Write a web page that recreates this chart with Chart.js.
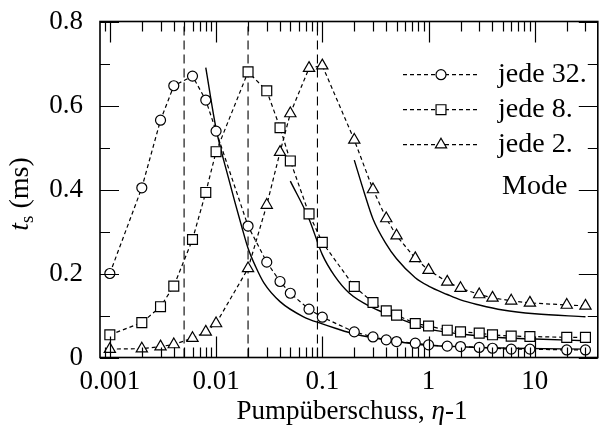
<!DOCTYPE html>
<html><head><meta charset="utf-8">
<script src="https://cdn.jsdelivr.net/npm/chart.js@4.4.1/dist/chart.umd.min.js"></script>
<style>html,body{margin:0;padding:0;background:#fff;}</style>
</head><body>
<canvas id="c" width="606" height="439"></canvas>
<script>
// ---- data ----
const xTickLabels = [0.001, 0.01, 0.1, 1, 10];
const yTickLabels = [0, 0.2, 0.4, 0.6, 0.8];
const legendLabels = ['jede 32.', 'jede 8.', 'jede 2.', 'Mode'];

const markerX = [0.001,0.002,0.003,0.004,0.006,0.008,0.01,0.02,0.03,0.04,0.05,0.075,0.1,0.2,0.3,0.4,0.5,0.75,1,1.5,2,3,4,6,9,20,30];
const jede32 = [0.20,0.404,0.565,0.647,0.670,0.613,0.539,0.313,0.227,0.181,0.153,0.115,0.096,0.061,0.049,0.042,0.038,0.034,0.030,0.027,0.026,0.024,0.022,0.020,0.020,0.018,0.018];
const jede8  = [0.054,0.083,0.121,0.170,0.281,0.393,0.490,0.680,0.635,0.547,0.468,0.342,0.274,0.169,0.131,0.111,0.101,0.081,0.075,0.065,0.061,0.058,0.054,0.051,0.050,0.048,0.048];
const jede2  = [0.020,0.021,0.026,0.031,0.046,0.061,0.081,0.212,0.363,0.489,0.581,0.689,0.695,0.518,0.400,0.331,0.290,0.236,0.208,0.180,0.165,0.150,0.142,0.135,0.130,0.125,0.123];

const mode1X = [0.008,0.01,0.013,0.0175,0.02,0.0236,0.0283,0.04,0.0665,0.1,0.135,0.2,0.5,1,3,6,30];
const mode1Y = [0.69,0.545,0.43,0.31,0.26,0.216,0.177,0.133,0.097,0.080,0.069,0.056,0.038,0.029,0.024,0.022,0.020];
const mode2X = [0.05,0.075,0.1,0.13,0.18,0.3,0.48,1,2,5,10,30];
const mode2Y = [0.42,0.33,0.245,0.195,0.153,0.118,0.097,0.068,0.056,0.047,0.044,0.040];
const mode3X = [0.2,0.25,0.3,0.4,0.5,0.75,1,1.5,2,3,5,10,30];
const mode3Y = [0.47,0.39,0.33,0.27,0.235,0.19,0.17,0.15,0.137,0.125,0.113,0.104,0.097];

const thresholdX = [0.005, 0.02, 0.09];

// ---- styles ----
const FONT = '"Liberation Serif", "Times New Roman", serif';

function markerSeries(ys, style, r) {
  return {
    data: markerX.map((x, i) => ({x, y: ys[i]})),
    showLine: true, borderColor: '#000', borderWidth: 1.2, borderDash: [4, 3],
    pointStyle: style, pointRadius: r, pointHoverRadius: r,
    pointBackgroundColor: '#fff', pointBorderColor: '#000', pointBorderWidth: 1.2,
    tension: 0, clip: false
  };
}
function solidSeries(xs, ys) {
  return {
    data: xs.map((x, i) => ({x, y: ys[i]})),
    showLine: true, borderColor: '#000', borderWidth: 1.4, pointRadius: 0,
    cubicInterpolationMode: 'monotone'
  };
}
function vLine(x) {
  return {
    data: [{x, y: 0}, {x, y: 0.8}],
    showLine: true, borderColor: '#000', borderWidth: 1.1, borderDash: [9, 5], pointRadius: 0
  };
}

const datasets = [
  markerSeries(jede32, 'circle', 5),
  markerSeries(jede8, 'rect', 7),
  markerSeries(jede2, 'triangle', 6.5),
  solidSeries(mode1X, mode1Y),
  solidSeries(mode2X, mode2Y),
  solidSeries(mode3X, mode3Y),
  ...thresholdX.map(vLine)
];

// ---- decorations: inward ticks, frame, legend, titles ----
function drawRich(ctx, parts, x, y) {
  let w = 0;
  parts.forEach(p => { ctx.font = p.font; w += ctx.measureText(p.t).width; });
  let cx = x - w / 2;
  parts.forEach(p => {
    ctx.font = p.font;
    ctx.fillText(p.t, cx, y + (p.dy || 0));
    cx += ctx.measureText(p.t).width;
  });
}

const deco = {
  id: 'deco',
  afterDatasetsDraw(chart) {
    const {ctx, chartArea: a, scales: {x, y}} = chart;
    ctx.save();
    ctx.strokeStyle = '#000';
    ctx.lineWidth = 1.2;
    ctx.beginPath();
    for (let e = -4; e <= 2; e++) {
      for (let m = 1; m <= 9; m++) {
        const v = m * Math.pow(10, e);
        if (v < x.min || v > x.max) continue;
        const px = Math.round(x.getPixelForValue(v)) + 0.5;
        const L = m === 1 ? 21 : 10;
        ctx.moveTo(px, a.bottom); ctx.lineTo(px, a.bottom - L);
        ctx.moveTo(px, a.top); ctx.lineTo(px, a.top + L);
      }
    }
    for (let k = 0; k <= 8; k++) {
      const v = k / 10;
      const py = Math.round(y.getPixelForValue(v)) + 0.5;
      const L = k % 2 === 0 ? 19 : 10;
      ctx.moveTo(a.left, py); ctx.lineTo(a.left + L, py);
      ctx.moveTo(a.right, py); ctx.lineTo(a.right - L, py);
    }
    ctx.stroke();
    ctx.lineWidth = 1.6;
    ctx.strokeRect(a.left, a.top, a.right - a.left, a.bottom - a.top);

    // legend
    ctx.fillStyle = '#000';
    const rows = [81.7, 116.7, 151.7];
    const styles = [['circle', 5], ['rect', 7], ['triangle', 6.5]];
    for (let i = 0; i < 3; i++) {
      const cy = rows[i] - 7;
      ctx.save();
      ctx.lineWidth = 1.2; ctx.setLineDash([4, 3]);
      ctx.beginPath(); ctx.moveTo(403, cy); ctx.lineTo(479, cy); ctx.stroke();
      ctx.restore();
      ctx.fillStyle = '#fff'; ctx.strokeStyle = '#000'; ctx.lineWidth = 1.2;
      Chart.helpers.drawPoint(ctx, {pointStyle: styles[i][0], radius: styles[i][1], borderWidth: 1.2}, 441, cy);
      ctx.fillStyle = '#000';
      ctx.font = '28px ' + FONT;
      ctx.textAlign = 'left'; ctx.textBaseline = 'alphabetic';
      ctx.fillText(legendLabels[i], 498, rows[i]);
    }
    ctx.font = '28px ' + FONT;
    ctx.fillText(legendLabels[3], 502, 194);

    // x title
    ctx.textAlign = 'left'; ctx.textBaseline = 'alphabetic';
    drawRich(ctx, [
      {t: 'Pumpüberschuss, ', font: '27px ' + FONT},
      {t: 'η', font: 'italic 27px ' + FONT},
      {t: '-1', font: '27px ' + FONT}
    ], 352, 419);

    // y title
    ctx.save();
    ctx.translate(28, 194);
    ctx.rotate(-Math.PI / 2);
    drawRich(ctx, [
      {t: 't', font: 'italic 28px ' + FONT},
      {t: 's', font: '19px ' + FONT, dy: 5},
      {t: ' (ms)', font: '28px ' + FONT}
    ], 0, 0);
    ctx.restore();
    ctx.restore();
  }
};

new Chart(document.getElementById('c'), {
  type: 'scatter',
  data: {datasets},
  options: {
    responsive: false, animation: false, devicePixelRatio: 1,
    layout: {padding: {top: 21.5, right: 0, left: 0, bottom: 0}},
    plugins: {legend: {display: false}, tooltip: {enabled: false}},
    scales: {
      x: {
        type: 'logarithmic', min: 0.000808, max: 39.2,
        grid: {display: false, drawTicks: false}, border: {display: false},
        afterBuildTicks: s => { s.ticks = xTickLabels.map(v => ({value: v})); },
        afterFit: s => { s.height = 81.5; s.paddingLeft = 0; s.paddingRight = 0; },
        ticks: {
          autoSkip: false, maxRotation: 0, padding: 8, color: '#000',
          font: {family: FONT, size: 27},
          callback: v => String(v)
        }
      },
      y: {
        type: 'linear', min: 0, max: 0.8,
        grid: {display: false, drawTicks: false}, border: {display: false},
        afterBuildTicks: s => { s.ticks = yTickLabels.map(v => ({value: v})); },
        afterFit: s => { s.width = 100; s.paddingTop = 0; s.paddingBottom = 0; },
        ticks: {
          padding: 17, color: '#000',
          font: {family: FONT, size: 27},
          callback: v => String(v)
        }
      }
    }
  },
  plugins: [deco]
});
</script>
</body></html>
